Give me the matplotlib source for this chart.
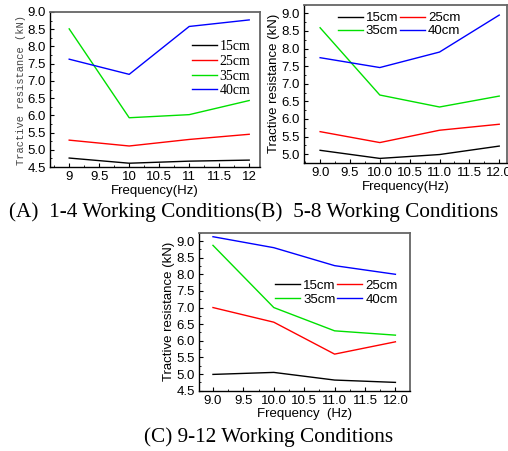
import matplotlib
matplotlib.use("Agg")
import matplotlib.pyplot as plt
from matplotlib.ticker import MultipleLocator, FormatStrFormatter

# -------------------------------
# Data
# -------------------------------
freq = [9, 10, 11, 12]
depths = ["15cm", "25cm", "35cm", "40cm"]
colors = ["black", "red", "#00e000", "blue"]

# (A) working conditions 1-4
a_15 = [4.76, 4.61, 4.67, 4.70]
a_25 = [5.28, 5.11, 5.30, 5.45]
a_35 = [8.51, 5.93, 6.02, 6.43]
a_40 = [7.63, 7.19, 8.58, 8.77]

# (B) working conditions 5-8
b_15 = [5.11, 4.88, 4.99, 5.23]
b_25 = [5.64, 5.33, 5.68, 5.85]
b_35 = [8.59, 6.68, 6.34, 6.65]
b_40 = [7.74, 7.46, 7.90, 8.95]

# (C) working conditions 9-12
c_15 = [4.99, 5.05, 4.82, 4.75]
c_25 = [7.00, 6.56, 5.60, 5.97]
c_35 = [8.87, 7.00, 6.30, 6.17]
c_40 = [9.13, 8.80, 8.26, 8.00]

SANS = "Liberation Sans"
SERIF = "Liberation Serif"
MONO = "Liberation Mono"
TICK_FS = 9.5

fig = plt.figure(figsize=(5.08, 4.51), dpi=100)


def style_axes(ax, xlim, ylim, xfmt):
    ax.set_xlim(*xlim)
    ax.set_ylim(*ylim)
    ax.xaxis.set_major_locator(MultipleLocator(0.5))
    ax.xaxis.set_minor_locator(MultipleLocator(0.25))
    ax.yaxis.set_major_locator(MultipleLocator(0.5))
    ax.yaxis.set_minor_locator(MultipleLocator(0.25))
    ax.xaxis.set_major_formatter(xfmt)
    ax.yaxis.set_major_formatter(FormatStrFormatter("%.1f"))
    ax.tick_params(which="both", direction="in", top=False, right=False,
                   labelsize=TICK_FS, pad=3)
    ax.tick_params(which="major", length=3, width=0.8)
    ax.tick_params(which="minor", length=1.5, width=0.6)
    for lab in ax.get_xticklabels() + ax.get_yticklabels():
        lab.set_fontfamily(SANS)
    for side in ["left", "bottom"]:
        ax.spines[side].set_linewidth(1.0)
    for side in ["top", "right"]:
        ax.spines[side].set_color("#666666")
        ax.spines[side].set_linewidth(1.3)


def xfmt_plain(x, pos):
    return f"{x:g}"


def row_legend(ax, lines, **kw):
    # two columns filled row by row: 15cm 25cm / 35cm 40cm
    order = [0, 2, 1, 3]
    return ax.legend([lines[i] for i in order], [depths[i] for i in order],
                     ncol=2, frameon=False, prop={"family": SANS, "size": TICK_FS},
                     handlelength=1.9, handletextpad=0.25, columnspacing=0.1,
                     borderpad=0.2, **kw)


# -------------------------------
# (A)
# -------------------------------
ax_a = fig.add_axes([0.0984, 0.6297, 0.4134, 0.3437])
for vals, name, c in zip([a_15, a_25, a_35, a_40], depths, colors):
    ax_a.plot(freq, vals, color=c, lw=1.0, label=name)
style_axes(ax_a, (8.68, 12.18), (4.5, 9.0), plt.FuncFormatter(xfmt_plain))
ax_a.set_xlabel("Frequency(Hz)", fontsize=TICK_FS, family=SANS, labelpad=1)
ax_a.set_ylabel("Tractive resistance (kN)", fontsize=7.5, family=MONO,
                color="#444444", labelpad=1)
ax_a.legend(loc="upper right", bbox_to_anchor=(1.0, 0.88), frameon=False,
            prop={"family": SERIF, "size": 10}, handlelength=1.8,
            handletextpad=0.2, labelspacing=0.12, borderpad=0.2)

# -------------------------------
# (B)
# -------------------------------
ax_b = fig.add_axes([0.5984, 0.6386, 0.3996, 0.3514])
lines_b = []
for vals, name, c in zip([b_15, b_25, b_35, b_40], depths, colors):
    lines_b += ax_b.plot(freq, vals, color=c, lw=1.0, label=name)
style_axes(ax_b, (8.73, 12.13), (4.75, 9.25), FormatStrFormatter("%.1f"))
ax_b.set_xlabel("Frequency(Hz)", fontsize=TICK_FS, family=SANS, labelpad=1)
ax_b.set_ylabel("Tractive resistance (kN)", fontsize=TICK_FS, family=SANS,
                labelpad=1)
row_legend(ax_b, lines_b, loc="upper left", bbox_to_anchor=(0.12, 1.01),
           labelspacing=0.05)

# -------------------------------
# (C)
# -------------------------------
ax_c = fig.add_axes([0.3917, 0.1337, 0.4154, 0.3503])
lines_c = []
for vals, name, c in zip([c_15, c_25, c_35, c_40], depths, colors):
    lines_c += ax_c.plot(freq, vals, color=c, lw=1.0, label=name)
style_axes(ax_c, (8.77, 12.24), (4.5, 9.25), FormatStrFormatter("%.1f"))
ax_c.set_xlabel("Frequency  (Hz)", fontsize=TICK_FS, family=SANS, labelpad=1)
ax_c.set_ylabel("Tractive resistance (kN)", fontsize=TICK_FS, family=SANS,
                labelpad=1)
row_legend(ax_c, lines_c, loc="center right", bbox_to_anchor=(0.985, 0.62),
           labelspacing=0.15)

# -------------------------------
# Captions
# -------------------------------
fig.text(0.5, 1 - 212 / 451, "(A)  1-4 Working Conditions(B)  5-8 Working Conditions",
         ha="center", va="center", family=SERIF, fontsize=15.3)
fig.text(0.529, 1 - 437 / 451, "(C) 9-12 Working Conditions",
         ha="center", va="center", family=SERIF, fontsize=15.3)

fig.savefig("out.png", dpi=100)
